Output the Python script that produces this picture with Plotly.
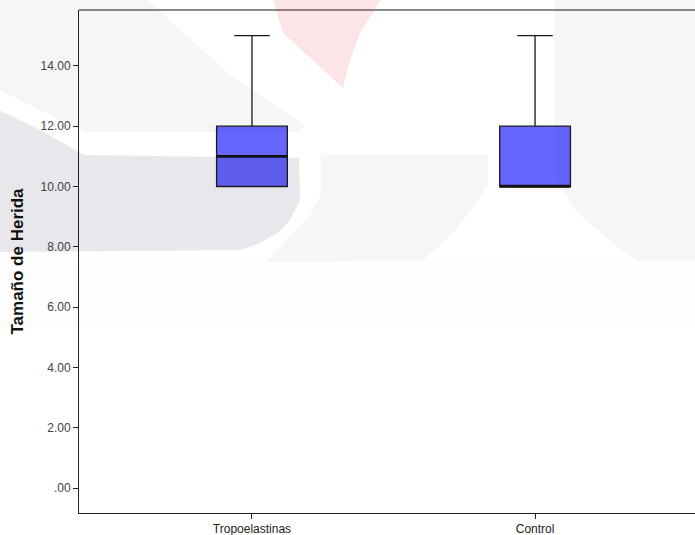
import plotly.graph_objects as go

# Summary statistics per group
groups = ["Tropoelastinas", "Control"]
lower_fence = [10, 10]
q1 = [10, 10]
median = [11, 10]
q3 = [12, 12]
upper_fence = [15, 15]

y_tickvals = [0, 2, 4, 6, 8, 10, 12, 14]
y_ticktext = [".00", "2.00", "4.00", "6.00", "8.00", "10.00", "12.00", "14.00"]

BOX_W = 0.25
positions = list(range(len(groups)))

W, H = 695, 535
M_L, M_R, M_T, M_B = 79, 0, 10, 22
PW, PH = W - M_L - M_R, H - M_T - M_B


def to_paper(px, py):
    return (px - M_L) / PW, (H - M_B - py) / PH


def poly_path(points):
    pts = [to_paper(x, y) for x, y in points]
    return "M " + " L ".join(f"{x:.4f},{y:.4f}" for x, y in pts) + " Z"


# Faint background emblem (page watermark), in pixel outline
emblem = [
    # top-left light arc
    (dict(color="rgb(40,30,80)", opacity=0.045),
     [(-5, -5), (142, -5), (230, 75), (305, 125), (300, 132), (85, 132), (-5, 88)]),
    # darker left band
    (dict(color="rgb(40,30,80)", opacity=0.105),
     [(-5, 108), (40, 130), (84, 155), (299, 158), (300, 200), (290, 220),
      (279, 232), (260, 243), (240, 250), (-5, 252)]),
    # middle light block
    (dict(color="rgb(40,30,80)", opacity=0.045),
     [(321, 155), (488, 155), (488, 185), (470, 212), (455, 230), (435, 250),
      (422, 261), (266, 262), (280, 248), (292, 233), (310, 215), (321, 195)]),
    # right light block
    (dict(color="rgb(40,30,80)", opacity=0.045),
     [(555, -5), (695, -5), (695, 261), (638, 261), (615, 245), (598, 230),
      (575, 210), (562, 190), (555, 170)]),
    # lower haze
    (dict(color="rgb(40,30,80)", opacity=0.008),
     [(-5, 262), (695, 262), (695, 327), (-5, 327)]),
    # red wedge
    (dict(color="rgb(220,40,60)", opacity=0.12),
     [(272, -5), (273, 0), (283, 33), (320, 67), (343, 88), (348, 67),
      (360, 33), (381, 0), (382, -5)]),
]

shapes = [
    dict(type="line", xref="paper", yref="paper", x0=0, x1=1, y0=1, y1=1,
         line=dict(color="#8a8a8a", width=2), layer="below"),
]
for style, pts in emblem:
    shapes.append(dict(type="path", xref="paper", yref="paper", path=poly_path(pts),
                       fillcolor=style["color"], opacity=style["opacity"],
                       line=dict(width=0, color="rgba(0,0,0,0)"), layer="above"))

fig = go.Figure()
fig.add_trace(go.Box(
    x=positions,
    q1=q1,
    median=median,
    q3=q3,
    lowerfence=lower_fence,
    upperfence=upper_fence,
    boxpoints=False,
    width=BOX_W,
    whiskerwidth=0.5,
    fillcolor="#6666ff",
    line=dict(color="#1a1a1a", width=1.3),
    hoverinfo="skip",
    showlegend=False,
))

# Heavier median bars
mx, my = [], []
for p, m in zip(positions, median):
    mx += [p - BOX_W / 2, p + BOX_W / 2, None]
    my += [m, m, None]
fig.add_trace(go.Scatter(
    x=mx, y=my, mode="lines",
    line=dict(color="#111111", width=2.6),
    hoverinfo="skip", showlegend=False,
))

fig.update_layout(
    width=W, height=H,
    margin=dict(l=M_L, r=M_R, t=M_T, b=M_B, pad=0),
    paper_bgcolor="white",
    plot_bgcolor="white",
    font=dict(family="Arial, Liberation Sans, sans-serif", color="#333333", size=12),
    shapes=shapes,
    xaxis=dict(
        range=[-0.611, 1.565],
        tickvals=positions, ticktext=groups,
        showline=True, linecolor="#222222", linewidth=1,
        showgrid=False, zeroline=False,
        ticks="outside", ticklen=5, tickcolor="#222222", tickwidth=1,
        tickfont=dict(size=12, color="#222222"),
    ),
    yaxis=dict(
        range=[-0.82, 15.85],
        tickvals=y_tickvals, ticktext=y_ticktext,
        showline=True, linecolor="#222222", linewidth=1,
        showgrid=False, zeroline=False,
        ticks="outside", ticklen=5, tickcolor="#222222", tickwidth=1,
        tickfont=dict(size=12, color="#444444"),
        title=dict(text="<b>Tamaño de Herida</b>",
                   font=dict(size=17, color="#111111"), standoff=12),
    ),
)

fig.write_html("out.html", config={"displayModeBar": False})
